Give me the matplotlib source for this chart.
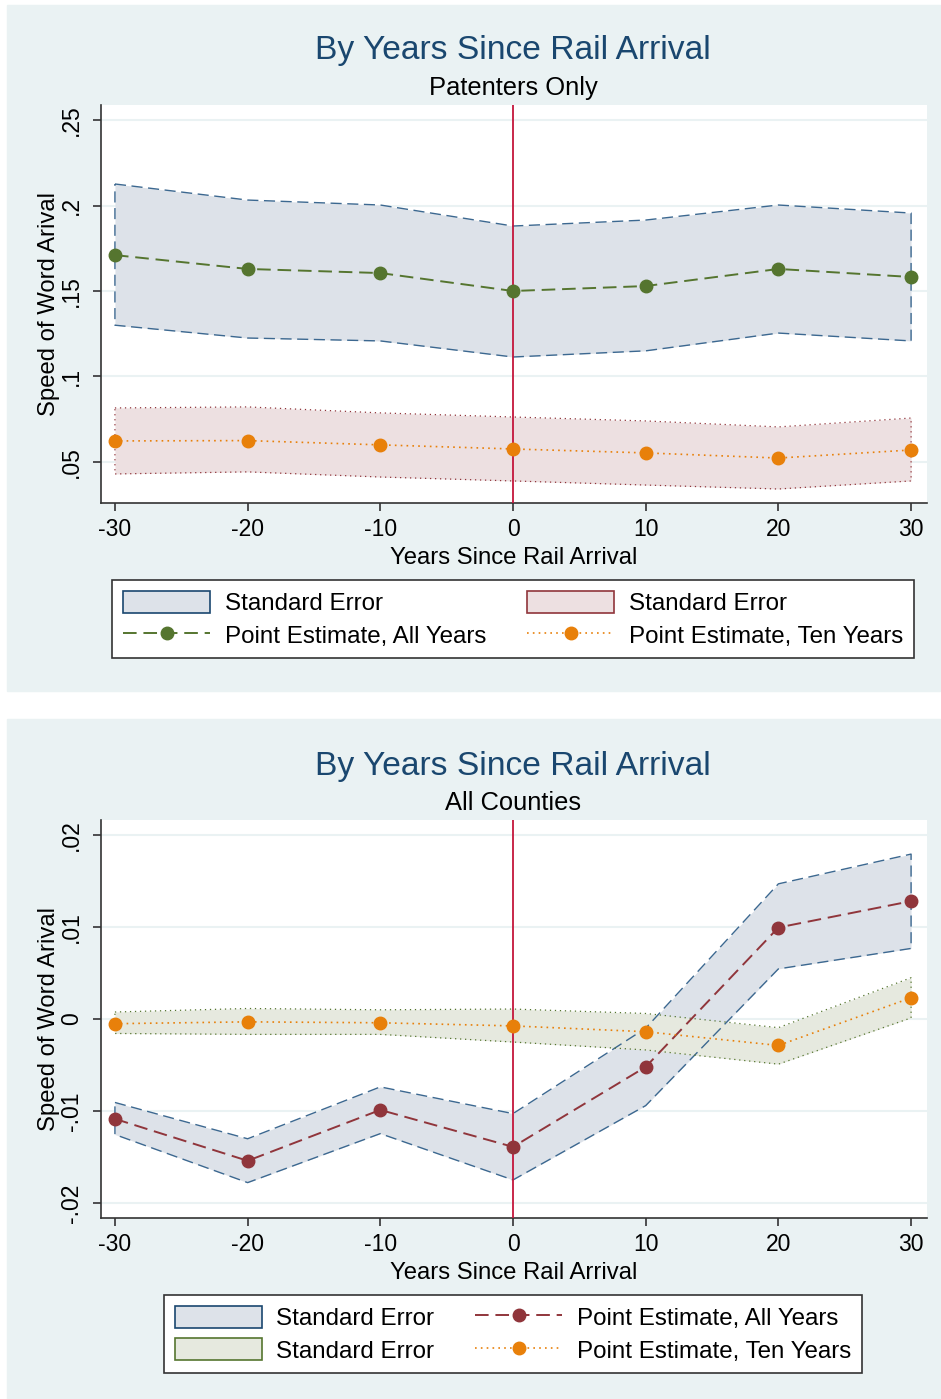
import matplotlib.pyplot as plt
from matplotlib.patches import Rectangle
from matplotlib.lines import Line2D

plt.rcParams['font.family'] = ['Liberation Sans', 'DejaVu Sans']

# Years since rail arrival
years = [-30, -20, -10, 0, 10, 20, 30]

# Patenters only
pat_all_est = [0.1710, 0.1629, 0.1605, 0.1500, 0.1529, 0.1629, 0.1582]
pat_all_hi = [0.2126, 0.2032, 0.2003, 0.1880, 0.1915, 0.2003, 0.1956]
pat_all_lo = [0.1300, 0.1225, 0.1208, 0.1114, 0.1150, 0.1254, 0.1208]
pat_ten_est = [0.0623, 0.0625, 0.0600, 0.0576, 0.0553, 0.0523, 0.0570]
pat_ten_hi = [0.0816, 0.0822, 0.0787, 0.0763, 0.0740, 0.0705, 0.0757]
pat_ten_lo = [0.0430, 0.0442, 0.0412, 0.0389, 0.0365, 0.0342, 0.0389]

# All counties
cty_all_est = [-0.01084, -0.01539, -0.00987, -0.01388, -0.00520, 0.00993, 0.01279]
cty_all_hi = [-0.00906, -0.01300, -0.00737, -0.01027, -0.00100, 0.01467, 0.01790]
cty_all_lo = [-0.01254, -0.01776, -0.01244, -0.01747, -0.00940, 0.00544, 0.00766]
cty_ten_est = [-0.00051, -0.00031, -0.00041, -0.00075, -0.00138, -0.00287, 0.00230]
cty_ten_hi = [0.00076, 0.00114, 0.00100, 0.00108, 0.00060, -0.00094, 0.00448]
cty_ten_lo = [-0.00157, -0.00167, -0.00167, -0.00250, -0.00336, -0.00490, 0.00012]

top_ticks = [0.05, 0.1, 0.15, 0.2, 0.25]
top_ticklabels = ['.05', '.1', '.15', '.2', '.25']
bot_ticks = [-0.02, -0.01, 0, 0.01, 0.02]
bot_ticklabels = ['-.02', '-.01', '0', '.01', '.02']

BG = '#EAF2F3'
NAVY = '#1A476F'
EDGE_BLUE = '#3C6890'
GREEN = '#55752F'
ORANGE = '#E8800A'
MAROON = '#90353B'
VLINE = '#C4163C'

W, H = 941, 1399
fig = plt.figure(figsize=(W / 100, H / 100), dpi=100)
fig.patch.set_facecolor('white')

# panel backgrounds
fig.add_artist(Rectangle((7 / W, 1 - 691 / H), 933 / W, 686 / H,
                         transform=fig.transFigure, color=BG, zorder=-10))
fig.add_artist(Rectangle((7 / W, 0), 933 / W, 1 - 719 / H,
                         transform=fig.transFigure, color=BG, zorder=-10))


def panel(top_px, subtitle, est1, hi1, lo1, est2, hi2, lo2,
          c_est1, c_fill2, c_edge2, ylim, ticks, ticklabels):
    ax = fig.add_axes([101 / W, 1 - (top_px + 398) / H, 826 / W, 398 / H])
    ax.set_facecolor('white')
    for s in ['top', 'right']:
        ax.spines[s].set_visible(False)
    for s in ['left', 'bottom']:
        ax.spines[s].set_color('#333333')
        ax.spines[s].set_linewidth(1.2)
    ax.set_xlim(-31.05, 31.2)
    ax.set_ylim(*ylim)
    for t in ticks:
        ax.axhline(t, color=BG, lw=1.5, zorder=0)

    # band 1: all years
    ax.fill_between(years, lo1, hi1, color='#DDE2E9', lw=0, zorder=1)
    ax.plot(years + years[::-1] + years[:1], hi1 + lo1[::-1] + hi1[:1],
            color=EDGE_BLUE, lw=1.0, ls=(0, (8, 4)), zorder=2)
    # band 2: ten years
    ax.fill_between(years, lo2, hi2, color=c_fill2, lw=0, zorder=1)
    ax.plot(years + years[::-1] + years[:1], hi2 + lo2[::-1] + hi2[:1],
            color=c_edge2, lw=0.9, ls=(0, (1, 3)), zorder=2)

    ax.axvline(0, color=VLINE, lw=1.3, zorder=3)

    ax.plot(years, est1, color=c_est1, lw=1.4, ls=(0, (7, 3.5)),
            marker='o', ms=9, zorder=4)
    ax.plot(years, est2, color=ORANGE, lw=1.2, ls=(0, (1, 2.5)),
            marker='o', ms=9, zorder=4)

    ax.set_xticks(years)
    ax.set_xticklabels([str(y) for y in years])
    ax.set_yticks(ticks)
    ax.set_yticklabels(ticklabels, rotation=90, va='center')
    ax.tick_params(axis='both', length=6, width=1.2, color='#333333',
                   labelsize=16.5)
    ax.tick_params(axis='x', pad=5)
    ax.tick_params(axis='y', pad=7)
    ax.set_xlabel('Years Since Rail Arrival', fontsize=17.2, labelpad=4)
    ax.set_ylabel('Speed of Word Arival', fontsize=17.2, labelpad=0)

    fig.text(0.5455, 1 - (top_px - 54) / H, 'By Years Since Rail Arrival',
             ha='center', va='center', fontsize=24.2, color=NAVY)
    fig.text(0.5455, 1 - (top_px - 17) / H, subtitle,
             ha='center', va='center', fontsize=18.4, color='black')

    handles = [
        Rectangle((0, 0), 1, 1, facecolor='#DDE2E9', edgecolor=NAVY, lw=1.2),
        Line2D([], [], color=c_est1, lw=1.4, ls=(0, (7, 3.5)),
               marker='o', ms=9),
        Rectangle((0, 0), 1, 1, facecolor=c_fill2, edgecolor=c_edge2, lw=1.2),
        Line2D([], [], color=ORANGE, lw=1.2, ls=(0, (1, 2.5)),
               marker='o', ms=9),
    ]
    labels = ['Standard Error', 'Point Estimate, All Years',
              'Standard Error', 'Point Estimate, Ten Years']
    if c_edge2 == GREEN:
        # all counties legend lists both bands in the first column
        handles = [handles[0], handles[2], handles[1], handles[3]]
        labels = [labels[0], labels[2], labels[1], labels[3]]
    leg = fig.legend(handles, labels, ncol=2, loc='upper center',
                     bbox_to_anchor=(513 / W, 1 - (top_px + 475) / H),
                     fontsize=17.4, frameon=True, fancybox=False,
                     edgecolor='#333333', framealpha=1, handlelength=3.6,
                     handleheight=1.0, handletextpad=0.6, columnspacing=1.7,
                     labelspacing=0.35, borderpad=0.45, borderaxespad=0)
    leg.get_frame().set_linewidth(1.2)
    return ax


panel(105, 'Patenters Only', pat_all_est, pat_all_hi, pat_all_lo,
      pat_ten_est, pat_ten_hi, pat_ten_lo,
      GREEN, '#EDE0E1', MAROON, (0.026, 0.2588), top_ticks, top_ticklabels)
panel(820, 'All Counties', cty_all_est, cty_all_hi, cty_all_lo,
      cty_ten_est, cty_ten_hi, cty_ten_lo,
      MAROON, '#E6E9DF', GREEN, (-0.0216, 0.0216), bot_ticks, bot_ticklabels)

fig.savefig('out.png', dpi=100)
